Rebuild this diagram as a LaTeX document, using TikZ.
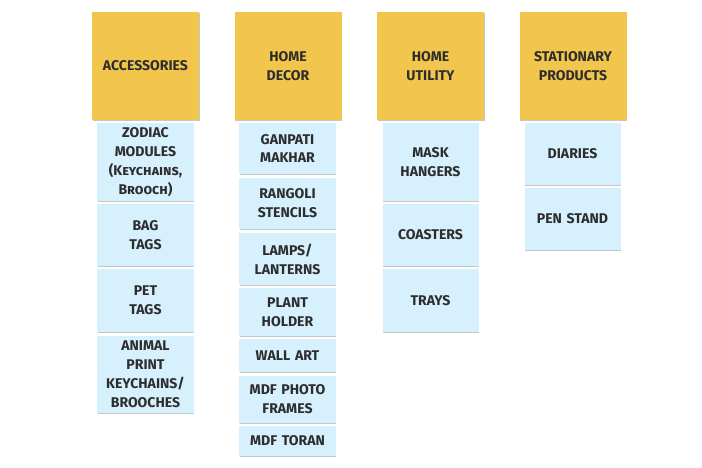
\documentclass[tikz,border=0pt]{standalone}
\usepackage{fontspec}
\setmainfont{Fira Sans}
\usetikzlibrary{shadows}
\definecolor{nota}{RGB}{242,198,77}
\definecolor{cartao}{RGB}{214,241,253}
\definecolor{tinta}{RGB}{45,45,45}

\begin{document}
\begin{tikzpicture}[
	sombra/.style={drop shadow={shadow xshift=0.4pt, shadow yshift=-0.7pt, opacity=0.22, fill=black}},
	titulo/.style={sombra, fill=nota, minimum width=2.14cm, minimum height=2.16cm, inner sep=1pt,
		text width=2.05cm, align=center, text=tinta, font=\bfseries\fontsize{8}{10.8}\selectfont},
	item/.style={sombra, fill=cartao, minimum width=1.9cm, inner sep=1pt,
		text width=1.85cm, align=center, text=tinta, font=\bfseries\fontsize{8}{10.8}\selectfont}
	]
	\useasboundingbox (0,0) rectangle (14.04,-9.34);						% Margens

	% Categorias
	\node[titulo] (acess) at (2.91,-1.32) 	{ACCESSORIES};
	\node[titulo] (decor) at (5.76,-1.32) 	{HOME\\DECOR};
	\node[titulo] (util)  at (8.61,-1.32) 	{HOME\\UTILITY};
	\node[titulo] (papel) at (11.46,-1.32) 	{STATIONARY\\PRODUCTS};

	% Acessorios
	\node[item, minimum height=1.56cm] (zodiac) at (2.91,-3.24) 	{ZODIAC\\MODULES\\(K{\scshape eychains},\\B{\scshape rooch})};
	\node[item, minimum height=1.24cm] (bag)    at (2.91,-4.70) 	{BAG\\TAGS};
	\node[item, minimum height=1.26cm] (pet)    at (2.91,-6.01) 	{PET\\TAGS};
	\node[item, minimum height=1.54cm] (animal) at (2.91,-7.49) 	{ANIMAL\\PRINT\\KEYCHAINS/\\BROOCHES};

	% Decoracao
	\node[item, minimum height=1.02cm] (ganpati) at (5.75,-2.97) 	{GANPATI\\MAKHAR};
	\node[item, minimum height=1.02cm] (rangoli) at (5.75,-4.07) 	{RANGOLI\\STENCILS};
	\node[item, minimum height=1.04cm] (lamps)   at (5.75,-5.18) 	{LAMPS/\\LANTERNS};
	\node[item, minimum height=0.96cm] (plant)   at (5.75,-6.24) 	{PLANT\\HOLDER};
	\node[item, minimum height=0.66cm] (wall)    at (5.75,-7.11) 	{WALL ART};
	\node[item, minimum height=0.94cm] (photo)   at (5.75,-7.99) 	{MDF PHOTO\\FRAMES};
	\node[item, minimum height=0.60cm] (toran)   at (5.75,-8.82) 	{MDF TORAN};

	% Utilidades
	\node[item, minimum height=1.56cm] (mask)     at (8.61,-3.24) 	{MASK\\HANGERS};
	\node[item, minimum height=1.24cm] (coasters) at (8.61,-4.70) 	{COASTERS};
	\node[item, minimum height=1.26cm] (trays)    at (8.61,-6.01) 	{TRAYS};

	% Papelaria
	\node[item, minimum height=1.24cm] (diaries) at (11.45,-3.08) 	{DIARIES};
	\node[item, minimum height=1.24cm] (pen)     at (11.45,-4.38) 	{PEN STAND};
\end{tikzpicture}
\end{document}
